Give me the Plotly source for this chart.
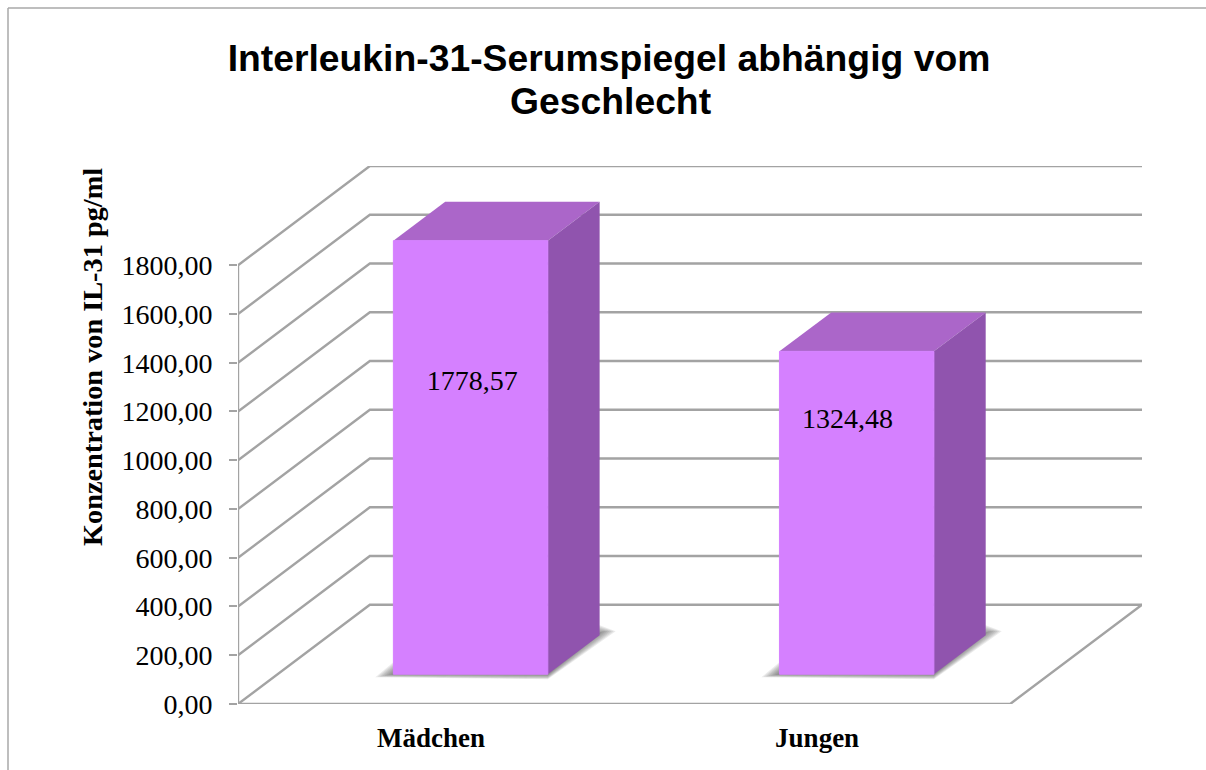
import plotly.graph_objects as go

# data
categories = ["Mädchen", "Jungen"]
values = [1778.57, 1324.48]
y_ticks = [0, 200, 400, 600, 800, 1000, 1200, 1400, 1600, 1800]
label_values = [1318, 1162]       # height at which the value labels sit

title_lines = ["Interleukin-31-Serumspiegel abhängig vom", "Geschlecht"]
y_title = "Konzentration von IL-31 pg/ml"

# layout / projection constants
W, H = 1206, 770
L, R, T, B = 238, 1142, 166, 704
DEPTH_X = 0.3415      # category units for the full floor depth
DEPTH_Y = 407.0       # value units for the full floor depth
BAR_W = 0.4
Z_FRONT, Z_BACK = 0.30, 0.693
X0, X1 = -0.5, 1.5
Y_MAX = y_ticks[-1] + DEPTH_Y
PX_X = (R - L) / (X1 + DEPTH_X - X0)
PX_Y = (B - T) / Y_MAX

GRID = "#a3a3a3"
FRONT, TOP, SIDE = "#d580ff", "#ab66c9", "#9054ae"
SERIF = "Liberation Serif"
SANS = "Liberation Sans"


def proj(x, y, z):
    return x + z * DEPTH_X, y + z * DEPTH_Y


def poly(points, color, line=None):
    xs = [p[0] for p in points] + [points[0][0]]
    ys = [p[1] for p in points] + [points[0][1]]
    return go.Scatter(x=xs, y=ys, mode="lines", fill="toself", fillcolor=color,
                      line=dict(width=1 if line else 0, color=line or color),
                      hoverinfo="skip", showlegend=False, cliponaxis=False)


def polyline(points, width=2.4):
    return go.Scatter(x=[p[0] for p in points], y=[p[1] for p in points], mode="lines",
                      line=dict(color=GRID, width=width), hoverinfo="skip",
                      showlegend=False, cliponaxis=False)


fig = go.Figure()

# walls: grid lines run across the side wall and then along the back wall
for t in y_ticks:
    fig.add_trace(polyline([proj(X0, t, 0), proj(X0, t, 1), proj(X1, t, 1)]))
# y axis edge and front floor edge
fig.add_trace(polyline([proj(X0, y_ticks[0], 0), proj(X0, y_ticks[-1], 0)]))
fig.add_trace(polyline([proj(X0, 0, 0), proj(X1, 0, 0), proj(X1, 0, 1)]))

# bars
for i, v in enumerate(values):
    left, right = i - BAR_W / 2, i + BAR_W / 2
    fl0, fb0 = proj(left, 0, Z_FRONT)
    fr0, _ = proj(right, 0, Z_FRONT)
    br0, bb0 = proj(right, 0, Z_BACK)
    # soft floor shadow, built from layered translucent polygons
    for t in (1.0, 0.875, 0.75, 0.625, 0.5, 0.375, 0.25, 0.125):
        fig.add_trace(poly([
            (fl0, fb0 + 12 * t / PX_Y),
            (fl0 - 18 * t / PX_X, fb0 - 3 * t / PX_Y),
            (fr0, fb0 - 5 * t / PX_Y),
            (br0 + 16 * t / PX_X, bb0 + 4 / PX_Y),
            (br0, bb0 + 10 * t / PX_Y),
        ], "rgba(70,70,70,0.11)"))
    fig.add_trace(poly([proj(left, v, Z_FRONT), proj(right, v, Z_FRONT),
                        proj(right, v, Z_BACK), proj(left, v, Z_BACK)], TOP))
    fig.add_trace(poly([proj(right, 0, Z_FRONT), proj(right, 0, Z_BACK),
                        proj(right, v, Z_BACK), proj(right, v, Z_FRONT)], SIDE))
    fig.add_trace(poly([proj(left, 0, Z_FRONT), proj(right, 0, Z_FRONT),
                        proj(right, v, Z_FRONT), proj(left, v, Z_FRONT)], FRONT, FRONT))

# value labels
label_x_shift = [0.004, -0.024]
fig.add_trace(go.Scatter(
    x=[i + label_x_shift[i] + Z_FRONT * DEPTH_X for i in range(len(values))],
    y=label_values,
    mode="text",
    text=[f"{v:.2f}".replace(".", ",") for v in values],
    textposition="middle center",
    textfont=dict(family=SERIF, size=28, color="black"),
    hoverinfo="skip", showlegend=False, cliponaxis=False,
))


def px(x):
    return (x - L) / (R - L)


def py(y):
    return (B - y) / (B - T)


TITLE_SIZE = 37.3

fig.update_layout(
    width=W, height=H,
    margin=dict(l=L, r=W - R, t=T, b=H - B, autoexpand=False),
    paper_bgcolor="white", plot_bgcolor="white",
    separators=",.",
    showlegend=False,
    title=dict(text=title_lines[0], x=609 / W, xanchor="center", xref="container",
               y=1 - 58 / H, yanchor="middle", yref="container",
               font=dict(family=SANS, size=TITLE_SIZE, color="black", weight="bold")),
    xaxis=dict(range=[X0, X1 + DEPTH_X], tickvals=list(range(len(categories))), ticktext=categories,
               showgrid=False, zeroline=False, showline=False, ticks="",
               ticklabelstandoff=15,
               tickfont=dict(family=SERIF, size=27, color="black", weight="bold")),
    yaxis=dict(range=[0, Y_MAX], tickvals=y_ticks, tickformat=".2f",
               showgrid=False, zeroline=False, showline=False, ticks="outside", ticklen=8,
               tickwidth=2, tickcolor=GRID, ticklabelstandoff=11,
               tickfont=dict(family=SERIF, size=28, color="black")),
    annotations=[
        dict(text=title_lines[1], xref="paper", yref="paper", x=px(610), y=py(101),
             showarrow=False, xanchor="center", yanchor="middle",
             font=dict(family=SANS, size=TITLE_SIZE, color="black", weight="bold")),
        dict(text=y_title, textangle=-90, xref="paper", yref="paper",
             x=px(92), y=py(357), showarrow=False, xanchor="center", yanchor="middle",
             font=dict(family=SERIF, size=28.3, color="black", weight="bold")),
    ],
    shapes=[
        dict(type="line", xref="paper", yref="paper", x0=px(8), x1=px(8), y0=py(8), y1=py(770),
             line=dict(color="#a8a8a8", width=1.5)),
        dict(type="line", xref="paper", yref="paper", x0=px(8), x1=px(1206), y0=py(8), y1=py(8),
             line=dict(color="#a8a8a8", width=1.5)),
    ],
)

fig.write_html("out.html", config={"displayModeBar": False},
               post_script="document.body.style.margin='0';document.body.style.overflow='hidden';")
